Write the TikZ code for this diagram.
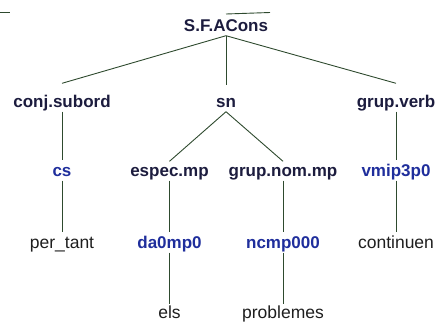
\documentclass[tikz,border=0pt]{standalone}
\usepackage{fontspec}
\setmainfont{Liberation Sans}
\definecolor{navytxt}{HTML}{1C1C3E}
\definecolor{tagblue}{HTML}{1F2E9C}
\definecolor{wordtxt}{HTML}{1E1E1E}
\definecolor{edgegreen}{HTML}{2E4A2E}
\tikzset{
  base/.style={inner xsep=0pt, inner ysep=1pt, text height=12.5pt, text depth=3.5pt, anchor=base},
  cat/.style={base, font=\fontsize{17}{19}\selectfont\bfseries, text=navytxt},
  tag/.style={base, font=\fontsize{17}{19}\selectfont\bfseries, text=tagblue},
  word/.style={base, font=\fontsize{17.5}{19}\selectfont, text=wordtxt},
  edge/.style={draw=edgegreen, line width=0.9pt}
}
\begin{document}
\begin{tikzpicture}[x=1pt,y=-1pt]
\useasboundingbox (0,0) rectangle (438,322);
% nodes (baseline positions)
\node[cat] (root) at (226,31) {S.F.ACons};
\node[cat] (conj) at (62,107) {conj.subord};
\node[cat] (sn) at (226,107) {sn};
\node[cat] (gv) at (396,107) {grup.verb};
\node[tag] (cs) at (62,176) {cs};
\node[cat] (espec) at (169.5,176) {espec.mp};
\node[cat] (gnom) at (283,176) {grup.nom.mp};
\node[tag] (vmip) at (396,176) {vmip3p0};
\node[word] (pertant) at (62,248) {per\_tant};
\node[tag] (da) at (169.5,248) {da0mp0};
\node[tag] (ncmp) at (283,248) {ncmp000};
\node[word] (cont) at (396,248) {continuen};
\node[word] (els) at (169.5,318) {els};
\node[word] (prob) at (283,318) {problemes};
% stray marks
\coordinate (m1) at (0,12);
\coordinate (m2) at (10,12);
\coordinate (m3) at (226,14);
\coordinate (m4) at (270,12.5);
\draw[edge] (m1) -- (m2);
\draw[edge] (m3) -- (m4);
% connectors
\draw[edge] (root.south) -- ([yshift=10pt]conj.north);
\draw[edge] (root.south) -- ([yshift=8pt]sn.north);
\draw[edge] (root.south) -- ([yshift=10pt]gv.north);
\draw[edge] (conj.south) -- ([yshift=2pt]cs.north);
\draw[edge] (sn.south) -- ([yshift=1pt]espec.north);
\draw[edge] (sn.south) -- ([yshift=1pt]gnom.north);
\draw[edge] (gv.south) -- ([yshift=2pt]vmip.north);
\draw[edge] (cs.south) -- ([yshift=2pt]pertant.north);
\draw[edge] (espec.south) -- ([yshift=2pt]da.north);
\draw[edge] (gnom.south) -- ([yshift=2pt]ncmp.north);
\draw[edge] (vmip.south) -- ([yshift=2pt]cont.north);
\draw[edge] (da.south) -- (els.north);
\draw[edge] (ncmp.south) -- (prob.north);
\end{tikzpicture}
\end{document}
